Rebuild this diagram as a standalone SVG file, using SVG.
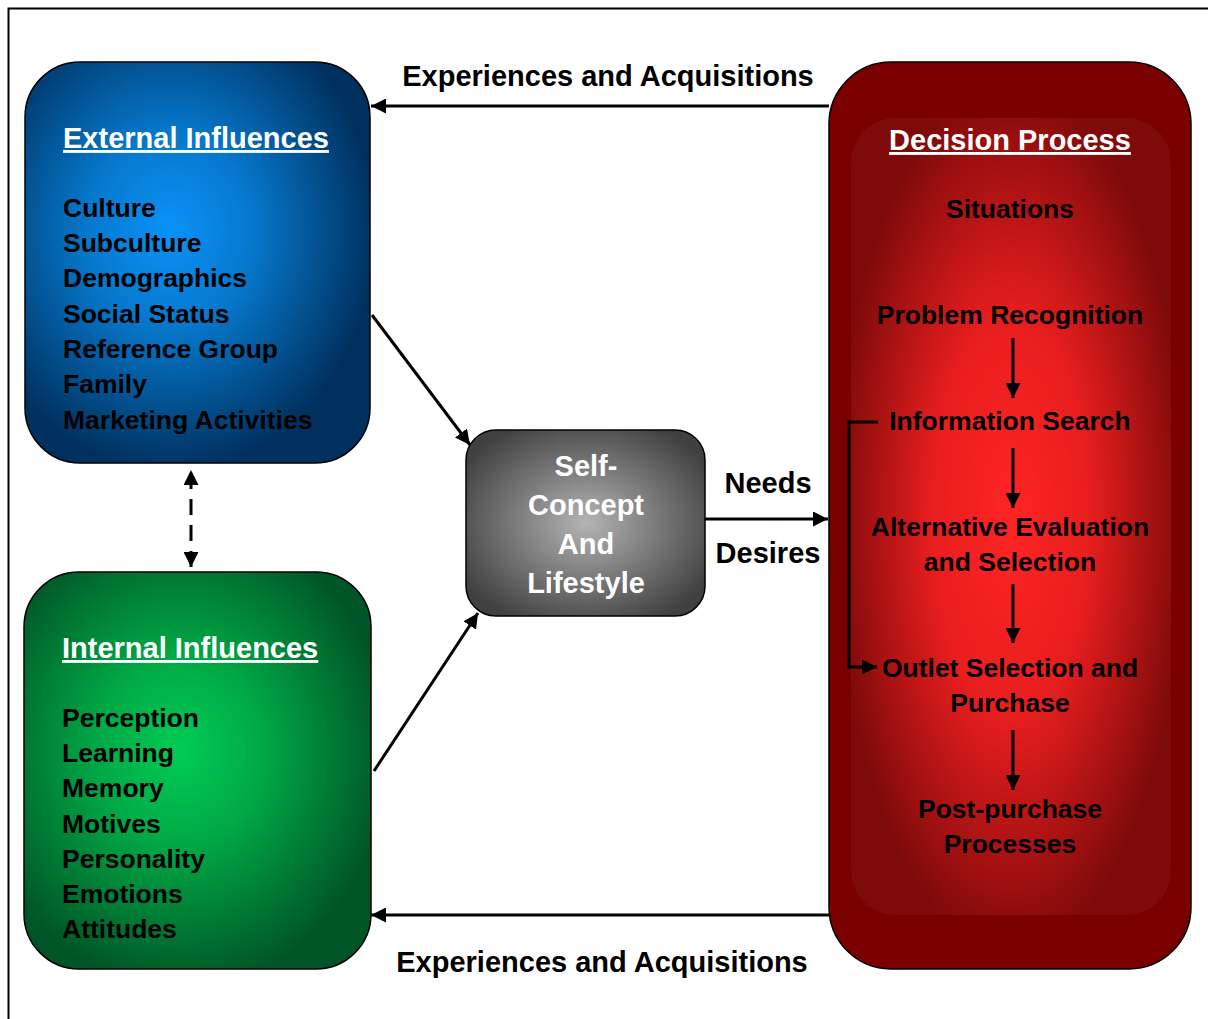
<svg xmlns="http://www.w3.org/2000/svg" width="1208" height="1019" viewBox="0 0 1208 1019">
<style>
text{font-family:"Liberation Sans",Arial,sans-serif;font-weight:bold;font-size:26.5px;fill:#000}
.big{font-size:29px}
.w{fill:#fff}
.ttl{fill:#fff;text-decoration:underline;font-size:29px}
.c{text-anchor:middle}
.ln{stroke:#000;stroke-width:3;fill:none}
</style>
<defs>
<radialGradient id="gb" cx="0.42" cy="0.42" r="0.6">
<stop offset="0" stop-color="#0a92f8"/><stop offset="0.4" stop-color="#0678cc"/><stop offset="1" stop-color="#00305e"/>
</radialGradient>
<radialGradient id="gg" cx="0.45" cy="0.45" r="0.6">
<stop offset="0" stop-color="#00cc55"/><stop offset="0.4" stop-color="#00a845"/><stop offset="1" stop-color="#005526"/>
</radialGradient>
<radialGradient id="gy" cx="0.5" cy="0.5" r="0.6">
<stop offset="0" stop-color="#b4b4b4"/><stop offset="1" stop-color="#404040"/>
</radialGradient>
<radialGradient id="gr" cx="0.5" cy="0.5" r="0.55">
<stop offset="0" stop-color="#ff2424"/><stop offset="0.45" stop-color="#e81e1e"/><stop offset="1" stop-color="#7e0a0a"/>
</radialGradient>
<marker id="ah" viewBox="0 0 10 10" refX="10" refY="5" markerWidth="5" markerHeight="5" orient="auto-start-reverse" markerUnits="strokeWidth">
<path d="M0,0 L10,5 L0,10 z" fill="#000"/>
</marker>
</defs>
<rect x="8.5" y="8.5" width="1220" height="1030" fill="none" stroke="#000" stroke-width="2"/>

<g id="external">
<rect x="25" y="62" width="345" height="401" rx="55" ry="55" fill="url(#gb)" stroke="#000" stroke-width="1.5"/>
<text x="63" y="148" class="ttl">External Influences</text>
<text x="63" y="217">Culture</text>
<text x="63" y="252">Subculture</text>
<text x="63" y="287">Demographics</text>
<text x="63" y="323">Social Status</text>
<text x="63" y="358">Reference Group</text>
<text x="63" y="393">Family</text>
<text x="63" y="429">Marketing Activities</text>
</g>

<g id="internal">
<rect x="24" y="572" width="347" height="397" rx="55" ry="55" fill="url(#gg)" stroke="#000" stroke-width="1.5"/>
<text x="62" y="658" class="ttl">Internal Influences</text>
<text x="62" y="727">Perception</text>
<text x="62" y="762">Learning</text>
<text x="62" y="797">Memory</text>
<text x="62" y="833">Motives</text>
<text x="62" y="868">Personality</text>
<text x="62" y="903">Emotions</text>
<text x="62" y="938">Attitudes</text>
</g>

<g id="self">
<rect x="466" y="430" width="239" height="186" rx="30" ry="30" fill="url(#gy)" stroke="#000" stroke-width="1.5"/>
<text x="586" y="476" class="w c big">Self-</text>
<text x="586" y="515" class="w c big">Concept</text>
<text x="586" y="554" class="w c big">And</text>
<text x="586" y="593" class="w c big">Lifestyle</text>
</g>

<g id="decision">
<rect x="829" y="62" width="362" height="907" rx="62" ry="62" fill="#7a0000" stroke="#000" stroke-width="1.5"/>
<rect x="851" y="118" width="320" height="797" rx="45" ry="45" fill="url(#gr)"/>
<text x="1010" y="150" class="ttl c">Decision Process</text>
<text x="1010" y="218" class="c">Situations</text>
<text x="1010" y="324" class="c">Problem Recognition</text>
<text x="1010" y="430" class="c">Information Search</text>
<text x="1010" y="536" class="c">Alternative Evaluation</text>
<text x="1010" y="571" class="c">and Selection</text>
<text x="1010" y="677" class="c">Outlet Selection and</text>
<text x="1010" y="712" class="c">Purchase</text>
<text x="1010" y="818" class="c">Post-purchase</text>
<text x="1010" y="853" class="c">Processes</text>
</g>

<g id="connectors">
<line x1="829" y1="106" x2="371" y2="106" class="ln" marker-end="url(#ah)"/>
<line x1="829" y1="915" x2="371" y2="915" class="ln" marker-end="url(#ah)"/>
<line x1="372" y1="315" x2="470" y2="445" class="ln" marker-end="url(#ah)"/>
<line x1="374" y1="771" x2="478" y2="613" class="ln" marker-end="url(#ah)"/>
<line x1="705" y1="519" x2="828" y2="519" class="ln" marker-end="url(#ah)"/>
<line x1="191" y1="470" x2="191" y2="567" class="ln" stroke-dasharray="16,10" stroke-dashoffset="-3" marker-start="url(#ah)" marker-end="url(#ah)"/>
<line x1="1013" y1="338" x2="1013" y2="398" class="ln" marker-end="url(#ah)"/>
<line x1="1013" y1="448" x2="1013" y2="508" class="ln" marker-end="url(#ah)"/>
<line x1="1013" y1="584" x2="1013" y2="643" class="ln" marker-end="url(#ah)"/>
<line x1="1013" y1="730" x2="1013" y2="790" class="ln" marker-end="url(#ah)"/>
<polyline points="878,422 849,422 849,667 877,667" class="ln" marker-end="url(#ah)"/>
<text x="608" y="86" class="c big">Experiences and Acquisitions</text>
<text x="602" y="972" class="c big">Experiences and Acquisitions</text>
<text x="768" y="493" class="c big">Needs</text>
<text x="768" y="563" class="c big">Desires</text>
</g>
</svg>
